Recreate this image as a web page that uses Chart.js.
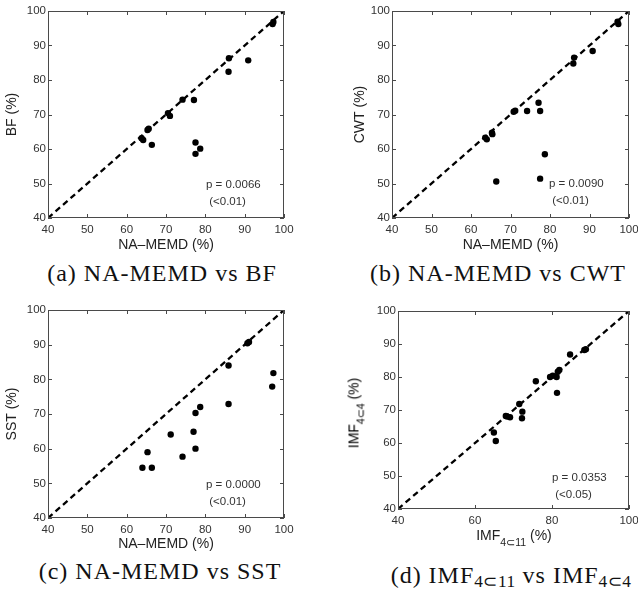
<!DOCTYPE html>
<html>
<head>
<meta charset="utf-8">
<script src="https://cdn.jsdelivr.net/npm/chart.js@4/dist/chart.umd.min.js"></script>
<style>
  html, body { margin: 0; padding: 0; background: #fff; width: 638px; height: 590px; overflow: hidden; position: relative; }
  canvas { position: absolute; }
  .cap { position: absolute; font-family: "Liberation Serif", "Times New Roman", serif; font-size: 24px; line-height: 24px;
         letter-spacing: 1px; color: #111; white-space: nowrap; transform: translateX(-50%); }
  .cap sub { font-size: 72%; vertical-align: -4px; letter-spacing: 0.5px; }
  .note { position: absolute; font-family: "Liberation Sans", Arial, sans-serif; font-size: 11.5px; line-height: 17px;
          color: #333; white-space: nowrap; }
  .ttl { position: absolute; font-family: "Liberation Sans", Arial, sans-serif; font-size: 14px; line-height: 16px;
         color: #222; white-space: nowrap; }
  .ttl sub { font-size: 75%; vertical-align: -6px; }
  .ttl.rot { color: #000; transform: translate(-50%, -50%) rotate(-90deg); }
</style>
</head>
<body>
<canvas id="chartA" width="300" height="258" style="left:0px;top:0px"></canvas>
<canvas id="chartB" width="310" height="258" style="left:340px;top:0px"></canvas>
<canvas id="chartC" width="300" height="258" style="left:0px;top:299px"></canvas>
<canvas id="chartD" width="310" height="250" style="left:340px;top:300px"></canvas>

<div class="note" style="left:206px;top:176px">p = 0.0066<br>&nbsp;(&lt;0.01)</div>
<div class="note" style="left:549px;top:175px">p = 0.0090<br>&nbsp;(&lt;0.01)</div>
<div class="note" style="left:206px;top:476px">p = 0.0000<br>&nbsp;(&lt;0.01)</div>
<div class="note" style="left:552px;top:469px">p = 0.0353<br>&nbsp;(&lt;0.05)</div>

<div class="ttl" style="left:514px;top:527px;transform:translateX(-50%)">IMF<sub>4⊂11</sub> (%)</div>
<div class="ttl rot" style="left:357px;top:413px">IMF<sub>4⊂4</sub> (%)</div>

<div class="cap" style="left:162px;top:261px">(a) NA-MEMD vs BF</div>
<div class="cap" style="left:498px;top:261px">(b) NA-MEMD vs CWT</div>
<div class="cap" style="left:160px;top:559px">(c) NA-MEMD vs SST</div>
<div class="cap" style="left:511px;top:563px">(d) IMF<sub>4⊂11</sub> vs IMF<sub>4⊂4</sub></div>

<script>
// axis ticks
const TICKS_10 = [40, 50, 60, 70, 80, 90, 100];
const TICKS_20 = [40, 60, 80, 100];

// identity line y = x
const DIAG_X = [40, 100];
const DIAG_Y = [40, 100];

// (a) NA-MEMD vs BF
const BF_X = [63.8, 64.2, 65.3, 65.6, 66.4, 70.5, 71.0, 74.2, 77.1, 77.5, 77.5, 78.7, 85.9, 86.0, 90.9, 97.1, 97.3];
const BF_Y = [63.1, 62.6, 65.5, 65.9, 61.2, 70.4, 69.6, 74.3, 74.2, 61.9, 58.6, 60.1, 82.4, 86.3, 85.7, 96.2, 96.8];

// (b) NA-MEMD vs CWT
const CWT_X = [63.6, 64.0, 65.3, 65.4, 66.4, 70.8, 71.2, 74.2, 77.1, 77.5, 77.5, 78.7, 85.9, 86.1, 90.8, 97.1, 97.3];
const CWT_Y = [63.3, 62.8, 64.7, 64.3, 50.6, 70.8, 71.1, 71.0, 73.4, 71.0, 51.4, 58.5, 84.8, 86.5, 88.4, 96.9, 96.2];

// (c) NA-MEMD vs SST
const SST_X = [64.0, 66.4, 65.3, 71.2, 74.2, 77.0, 77.5, 77.5, 78.7, 85.9, 85.9, 90.7, 91.1, 97.3, 97.0];
const SST_Y = [54.5, 54.5, 59.0, 64.1, 57.7, 64.9, 70.3, 60.0, 72.0, 84.0, 72.9, 90.4, 90.8, 81.8, 77.9];

// (d) IMF 4c11 vs IMF 4c4
const IMF11_X = [64.9, 65.4, 68.0, 68.4, 69.1, 71.5, 72.3, 72.2, 75.8, 79.5, 80.2, 81.2, 81.5, 81.9, 81.3, 84.7, 88.4, 88.8];
const IMF4_Y = [63.2, 60.6, 68.2, 68.0, 67.8, 71.8, 69.5, 67.5, 78.7, 80.0, 80.4, 80.0, 81.6, 82.1, 75.2, 86.8, 88.2, 88.4];

const TEXT_COLOR = '#333';
const AXIS_FONT = "'Liberation Sans', Arial, sans-serif";
const TICK_LEN = 4;

const toPoints = (xs, ys) => xs.map((x, i) => ({ x, y: ys[i] }));

/** matlab style box with inward ticks on all four sides */
const boxTicks = {
  id: 'boxTicks',
  afterDraw(chart) {
    const { ctx, chartArea: a, scales } = chart;
    ctx.save();
    ctx.strokeStyle = '#4a4a4a';
    ctx.lineWidth = 1;
    ctx.strokeRect(Math.round(a.left) + 0.5, Math.round(a.top) + 0.5,
      Math.round(a.width) - 1, Math.round(a.height) - 1);
    ctx.beginPath();
    scales.x.ticks.forEach((t) => {
      const px = Math.round(scales.x.getPixelForValue(t.value)) + 0.5;
      ctx.moveTo(px, a.bottom); ctx.lineTo(px, a.bottom - TICK_LEN);
      ctx.moveTo(px, a.top); ctx.lineTo(px, a.top + TICK_LEN);
    });
    scales.y.ticks.forEach((t) => {
      const py = Math.round(scales.y.getPixelForValue(t.value)) + 0.5;
      ctx.moveTo(a.left, py); ctx.lineTo(a.left + TICK_LEN, py);
      ctx.moveTo(a.right, py); ctx.lineTo(a.right - TICK_LEN, py);
    });
    ctx.stroke();
    ctx.restore();
  },
};

/**
 * Build one scatter panel
 * canvas: {left, top, width, height}, plot: {left, top, right, bottom} in page px
 */
function makePanel(id, canvas, plot, xTicks, xs, ys, xTitle, yTitle, yTitlePad) {
  const el = document.getElementById(id);
  const yWidth = plot.left - canvas.left;
  const xHeight = canvas.top + canvas.height - plot.bottom;

  const axisTitle = (text, padding) => ({
    display: !!text,
    text: text || '',
    color: '#222',
    font: { family: AXIS_FONT, size: 14 },
    padding,
  });

  return new Chart(el, {
    type: 'scatter',
    data: {
      datasets: [
        {
          type: 'line',
          data: toPoints(DIAG_X, DIAG_Y),
          borderColor: '#000',
          borderWidth: 2.3,
          borderDash: [6, 4],
          pointRadius: 0,
          fill: false,
        },
        {
          data: toPoints(xs, ys),
          backgroundColor: '#000',
          borderColor: '#000',
          pointRadius: 3.2,
          borderWidth: 0,
        },
      ],
    },
    options: {
      responsive: false,
      animation: false,
      layout: {
        padding: {
          left: 0,
          top: plot.top - canvas.top,
          right: canvas.left + canvas.width - plot.right,
          bottom: 0,
        },
      },
      plugins: { legend: { display: false }, tooltip: { enabled: false } },
      scales: {
        x: {
          type: 'linear',
          min: 40,
          max: 100,
          afterBuildTicks: (s) => { s.ticks = xTicks.map((v) => ({ value: v })); },
          afterFit: (s) => { s.height = xHeight; },
          grid: { display: false, drawTicks: false },
          border: { display: false },
          ticks: { color: TEXT_COLOR, padding: 5, font: { family: AXIS_FONT, size: 11.5 }, maxRotation: 0 },
          title: axisTitle(xTitle, { top: 0, bottom: 4.6 }),
        },
        y: {
          type: 'linear',
          min: 40,
          max: 100,
          afterBuildTicks: (s) => { s.ticks = TICKS_10.map((v) => ({ value: v })); },
          afterFit: (s) => { s.width = yWidth; },
          grid: { display: false, drawTicks: false },
          border: { display: false },
          ticks: { color: TEXT_COLOR, padding: 2, font: { family: AXIS_FONT, size: 11.5 } },
          title: axisTitle(yTitle, { top: yTitlePad, bottom: 0 }),
        },
      },
    },
    plugins: [boxTicks],
  });
}

makePanel('chartA', { left: 0, top: 0, width: 300, height: 258 }, { left: 48, top: 11, right: 284, bottom: 218 },
  TICKS_10, BF_X, BF_Y, 'NA\u2013MEMD (%)', 'BF (%)', 3.6);
makePanel('chartB', { left: 340, top: 0, width: 310, height: 258 }, { left: 392, top: 11, right: 629, bottom: 218 },
  TICKS_10, CWT_X, CWT_Y, 'NA\u2013MEMD (%)', 'CWT (%)', 11.6);
makePanel('chartC', { left: 0, top: 299, width: 300, height: 258 }, { left: 48, top: 310, right: 284, bottom: 518 },
  TICKS_10, SST_X, SST_Y, 'NA\u2013MEMD (%)', 'SST (%)', 3.6);
makePanel('chartD', { left: 340, top: 300, width: 310, height: 250 }, { left: 398, top: 311, right: 629, bottom: 509 },
  TICKS_20, IMF11_X, IMF4_Y, null, null, 0);
</script>
</body>
</html>
